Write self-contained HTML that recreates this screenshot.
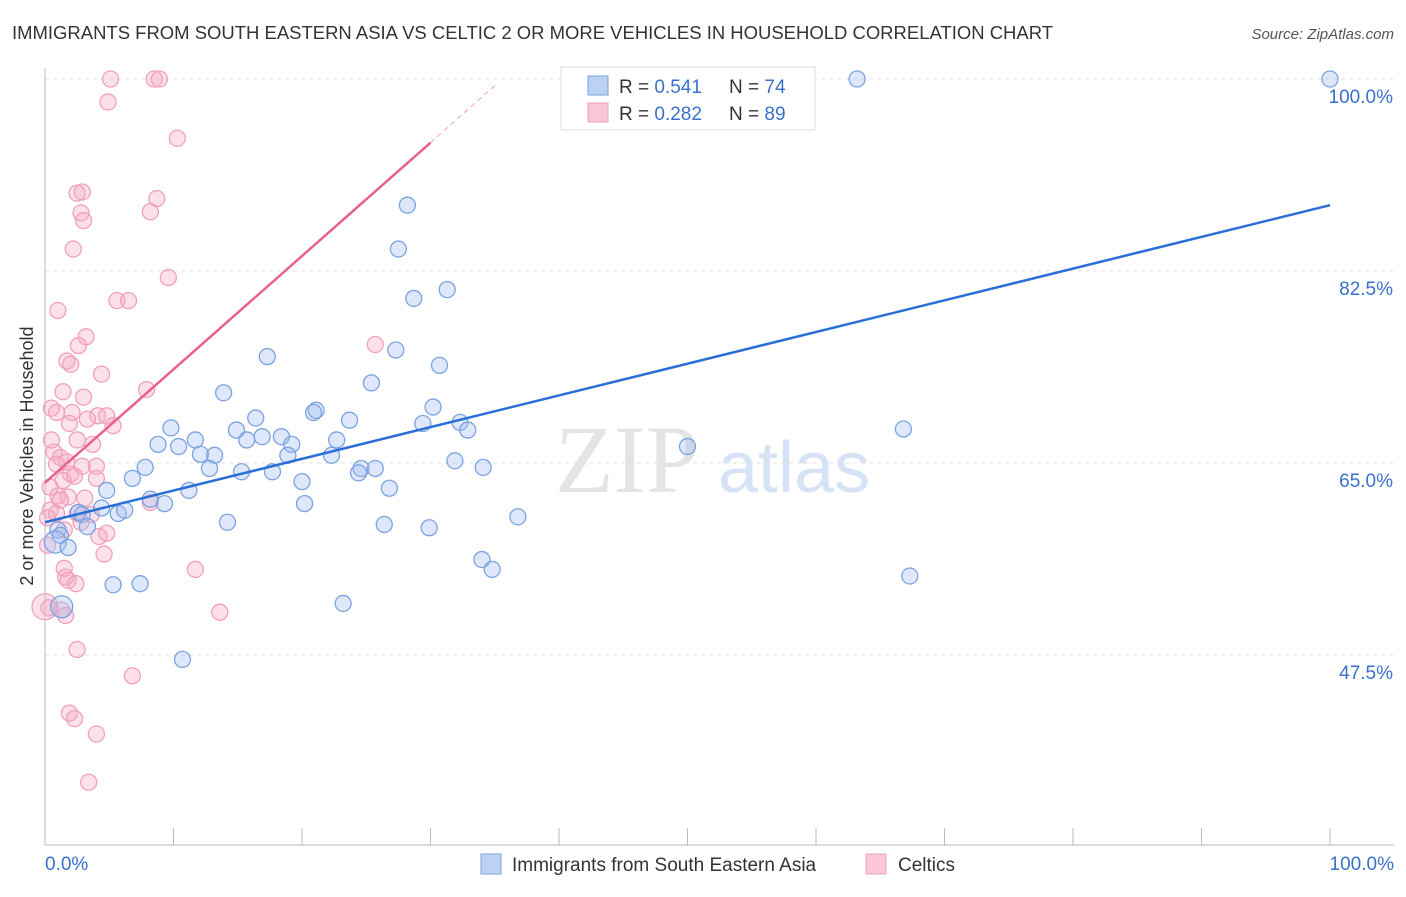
<!DOCTYPE html>
<html><head><meta charset="utf-8"><style>
body{margin:0;background:#fff;font-family:"Liberation Sans",sans-serif}
</style></head><body>
<svg id="c" width="1406" height="892" xmlns="http://www.w3.org/2000/svg" style="font-family:'Liberation Sans',sans-serif">
<text x="12" y="39" font-size="18" fill="#333" textLength="1041" lengthAdjust="spacingAndGlyphs">IMMIGRANTS FROM SOUTH EASTERN ASIA VS CELTIC 2 OR MORE VEHICLES IN HOUSEHOLD CORRELATION CHART</text>
<text x="1394" y="39" font-size="15" fill="#555" font-style="italic" text-anchor="end">Source: ZipAtlas.com</text>
<text x="0" y="0" font-size="18" fill="#333" text-anchor="middle" transform="translate(33,456) rotate(-90)">2 or more Vehicles in Household</text>
<text x="555" y="492" font-size="96" fill="#e4e4e4" font-family="Liberation Serif">ZIP</text>
<text x="718" y="492" font-size="72" fill="#d6e2f5">atlas</text>
<g id="grid"></g><g id="pts"></g><g id="lines"></g>
<g>
<rect x="561" y="67" width="254" height="63" fill="#fff" stroke="#ddd"/>
<rect x="588" y="76" width="20" height="19" fill="#bcd2f5" stroke="#7aa3e0"/>
<rect x="588" y="103" width="20" height="19" fill="#f9c6d6" stroke="#f0a0bb"/>
<text x="619" y="93" font-size="19" fill="#333">R = <tspan fill="#3a70c8">0.541</tspan></text>
<text x="729" y="93" font-size="19" fill="#333">N = <tspan fill="#3a70c8">74</tspan></text>
<text x="619" y="120" font-size="19" fill="#333">R = <tspan fill="#3a70c8">0.282</tspan></text>
<text x="729" y="120" font-size="19" fill="#333">N = <tspan fill="#3a70c8">89</tspan></text>
</g>
<g>
<rect x="481" y="854" width="20" height="20" fill="#bcd2f5" stroke="#7aa3e0"/>
<text x="512" y="871" font-size="19" fill="#333">Immigrants from South Eastern Asia</text>
<rect x="866" y="854" width="20" height="20" fill="#f9c6d6" stroke="#f0a0bb"/>
<text x="898" y="871" font-size="19" fill="#333">Celtics</text>
</g>
<text x="45" y="870" font-size="19" fill="#3a70c8">0.0%</text>
<text x="1394" y="870" font-size="19" fill="#3a70c8" text-anchor="end">100.0%</text>
</svg>
<script>
const yTicks=[100,82.5,65,47.5];
const yTickLabels=["100.0%","82.5%","65.0%","47.5%"];
const blueX=[63.2,100,28.2,27.5,28.7,31.3,17.3,27.3,25.4,30.7,13.9,30.2,21.1,20.9,23.7,16.4,32.3,29.4,32.9,66.8,9.8,14.9,22.7,8.8,11.7,15.7,16.9,18.4,19.2,10.4,12.1,18.9,13.2,22.3,50.0,31.9,34.1,7.8,12.8,15.3,17.7,24.6,25.7,24.4,20.0,6.8,26.8,11.2,4.8,8.2,9.3,20.2,4.4,5.7,6.2,2.6,36.8,2.9,14.2,26.4,29.9,3.3,1.0,1.2,0.8,1.8,34.0,34.8,67.3,5.3,7.4,23.2,1.3,10.7];
const blueY=[100,100,88.5,84.5,80.0,80.8,74.7,75.3,72.3,73.9,71.4,70.1,69.8,69.6,68.9,69.1,68.7,68.6,68.0,68.1,68.2,68.0,67.1,66.7,67.1,67.1,67.4,67.4,66.7,66.5,65.8,65.7,65.7,65.7,66.5,65.2,64.6,64.6,64.5,64.2,64.2,64.5,64.5,64.1,63.3,63.6,62.7,62.5,62.5,61.7,61.3,61.3,60.9,60.4,60.7,60.5,60.1,60.3,59.6,59.4,59.1,59.2,58.9,58.4,57.8,57.3,56.2,55.3,54.7,53.9,54.0,52.2,51.9,47.1];
const blueBig=[0,0,0,0,0,0,0,0,0,0,0,0,0,0,0,0,0,0,0,0,0,0,0,0,0,0,0,0,0,0,0,0,0,0,0,0,0,0,0,0,0,0,0,0,0,0,0,0,0,0,0,0,0,0,0,0,0,0,0,0,0,0,0,0,1,0,0,0,0,0,0,0,1,0];
const pinkX=[5.1,8.5,8.9,4.9,10.3,2.5,2.9,8.7,2.8,3.0,8.2,2.2,9.6,5.6,6.5,1.0,3.2,2.6,1.7,2.0,25.7,4.4,1.4,7.9,3.0,0.5,0.9,2.1,4.1,4.8,3.3,1.9,5.3,0.5,2.5,3.7,0.7,1.2,1.7,0.9,2.9,4.0,2.0,2.3,1.4,4.0,0.4,1.0,1.8,1.2,3.1,8.2,0.4,0.9,2.5,3.6,0.2,2.8,1.5,4.2,4.8,0.2,4.6,11.7,1.5,1.6,1.8,2.4,0.3,1.3,1.6,13.6,2.5,6.8,1.9,2.3,4.0,3.4,0];
const pinkY=[100,100,100,97.9,94.6,89.6,89.7,89.1,87.8,87.1,87.9,84.5,81.9,79.8,79.8,78.9,76.5,75.7,74.3,74.0,75.8,73.1,71.5,71.7,71.0,70.0,69.6,69.6,69.3,69.3,69.0,68.6,68.4,67.1,67.1,66.7,66.0,65.5,65.1,64.9,64.7,64.7,64.0,63.8,63.4,63.6,62.8,62.0,61.9,61.6,61.8,61.4,60.7,60.4,60.4,60.3,60.0,59.6,58.9,58.3,58.6,57.5,56.7,55.3,55.4,54.6,54.3,54.0,51.8,51.6,51.1,51.4,48.0,45.6,42.2,41.7,40.3,35.9,51.9];
const blueTrend=[[0,59.6],[100,88.5]];
const pinkTrend=[[0,63.2],[30,94.2]];
const pinkTrendExt=[[30,94.2],[35.2,99.6]];
const NS="http://www.w3.org/2000/svg";
const sx=v=>45+v*12.85;
const sy=v=>79+(100-v)*192/17.5;
function mk(t,a,p){const e=document.createElementNS(NS,t);for(const k in a)e.setAttribute(k,a[k]);p.appendChild(e);return e;}
const grid=document.getElementById('grid');
yTicks.forEach((v,i)=>{
 const l=mk('line',{x1:45,x2:1394,y1:sy(v),y2:sy(v),stroke:'#e2e2e2','stroke-dasharray':'4,4'},grid);
 
 
 const t=mk('text',{x:1393,y:sy(v)+24,'font-size':19,fill:'#3a70c8','text-anchor':'end'},grid);
 t.textContent=yTickLabels[i];
 
 
});
const ax=mk('line',{x1:45,x2:45,y1:68,y2:845,stroke:'#bbb'},grid);


const bx=mk('line',{x1:45,x2:1394,y1:845,y2:845,stroke:'#bbb'},grid);


for(let i=0;i<=10;i++){
 const tk=mk('line',{x1:sx(i*10),x2:sx(i*10),y1:828,y2:845,stroke:'#bbb'},grid);
 
 
}
const pts=document.getElementById('pts');
pinkX.forEach((x,i)=>{
 const c=mk('circle',{cx:sx(x),cy:sy(pinkY[i]),r:i==pinkX.length-1?13:8,fill:'rgba(245,170,195,0.35)',stroke:'#f0a0bb','stroke-width':1.3},pts);
 
 
});
blueX.forEach((x,i)=>{
 const c=mk('circle',{cx:sx(x),cy:sy(blueY[i]),r:blueBig[i]?11:8,fill:'rgba(160,190,240,0.35)',stroke:'#7aa3e0','stroke-width':1.3},pts);
 
 
});
const lines=document.getElementById('lines');
const b=mk('line',{x1:sx(blueTrend[0][0]),y1:sy(blueTrend[0][1]),x2:sx(blueTrend[1][0]),y2:sy(blueTrend[1][1]),stroke:'#2a6fd6','stroke-width':2.5},lines);


const p=mk('line',{x1:sx(pinkTrend[0][0]),y1:sy(pinkTrend[0][1]),x2:sx(pinkTrend[1][0]),y2:sy(pinkTrend[1][1]),stroke:'#e8608f','stroke-width':2.5},lines);


const pe=mk('line',{x1:sx(pinkTrendExt[0][0]),y1:sy(pinkTrendExt[0][1]),x2:sx(pinkTrendExt[1][0]),y2:sy(pinkTrendExt[1][1]),stroke:'#f0a0bb','stroke-width':1,'stroke-dasharray':'5,4'},lines);


</script>
</body></html>
